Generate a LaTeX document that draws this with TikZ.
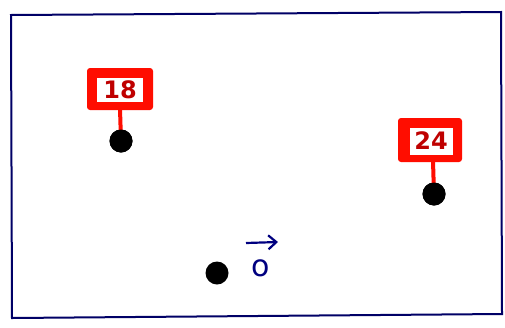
\documentclass[tikz,border=0pt]{standalone}
\usepackage{fontspec}
\setmainfont{DejaVu Sans}
\usetikzlibrary{arrows.meta}
\begin{document}
\begin{tikzpicture}[x=1pt,y=-1pt,
  frameline/.style={draw=blue!40!black,line width=2pt},
  signbox/.style={fill=red!90!orange,rounded corners=3pt},
  signinner/.style={fill=white},
  signtext/.style={text=red!75!black,font=\bfseries\fontsize{24}{24}\selectfont,inner sep=0pt},
  stem/.style={draw=red!90!orange,line width=4pt},
  pawn/.style={circle,fill=black,minimum size=23pt,inner sep=0pt},
  bluetext/.style={text=blue!50!black,font=\fontsize{30}{30}\selectfont,inner sep=0pt},
  bluearrow/.style={draw=blue!50!black,line width=2.2pt,-{Straight Barb[length=8pt,width=14pt]}}]
\useasboundingbox (0,0) rectangle (505,327);
\fill[white] (0,0) rectangle (505,327);
% frame
\coordinate (tl) at (11,15);
\coordinate (tr) at (501,12);
\coordinate (br) at (502,314);
\coordinate (bl) at (12,318);
\draw[frameline] (tl) -- (tr) -- (br) -- (bl) -- cycle;
% sign 18
\fill[signbox] (87,68) rectangle (153,110);
\fill[signinner] (97,78) rectangle (143,102);
\node[signtext] (l18) at (120,90) {18};
\node[pawn] (p18) at (121,141) {};
\draw[stem] (120,109) -- (p18.center);
\node[pawn] (p18b) at (121,141) {};
% sign 24
\fill[signbox] (398,118) rectangle (462,162);
\fill[signinner] (410,128) rectangle (453,155);
\node[signtext] (l24) at (431,141) {24};
\node[pawn] (p24) at (434,194) {};
\draw[stem] (433,161) -- (p24.center);
\node[pawn] (p24b) at (434,194) {};
% bottom
\node[pawn] (p0) at (217,273) {};
\node[bluetext] (o) at (261,268) {o};
\coordinate (a1) at (246,243);
\coordinate (a2) at (278,242);
\draw[bluearrow] (a1) -- (a2);
\end{tikzpicture}
\end{document}
